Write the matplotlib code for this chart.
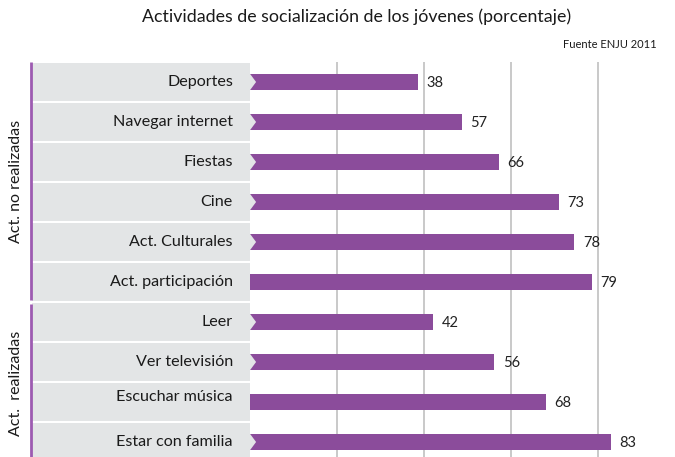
import numpy as np
import matplotlib
matplotlib.use("Agg")
import matplotlib.pyplot as plt
from matplotlib.patches import Polygon

plt.rcParams['font.family'] = ['Lato', 'DejaVu Sans']

# data
categories = ["Deportes", "Navegar internet", "Fiestas", "Cine", "Act. Culturales",
              "Act. participación", "Leer", "Ver televisión", "Escuchar música",
              "Estar con familia"]
values = [38, 57, 66, 73, 78, 79, 42, 56, 68, 83]            # printed labels
bar_lengths = [38.6, 48.7, 57.2, 71.0, 74.5, 78.6, 42.1, 56.1, 68, 83]  # as drawn in the source
groups = ["Act. no realizadas", "Act.  realizadas"]
group_sizes = [6, 4]
notched = [True, True, True, True, True, False, True, True, False, True]

purple = "#8b4c9b"
line_purple = "#9d5bb1"
box_grey = "#e3e5e6"
grid_grey = "#c9c9c9"

W, H = 675, 457
fig = plt.figure(figsize=(W / 100, H / 100), dpi=100)

top_px, bot_px = 62, 457
pitch = 40.0
n = len(categories)
ylim = (-0.5 + (bot_px - top_px) / pitch, -0.5)

# bars axes
x0_px = 250
scale = 4.35  # px per unit
ax = fig.add_axes([x0_px / W, 0, 1 - x0_px / W, (bot_px - top_px) / H])
ax.set_xlim(0, (W - x0_px) / scale)
ax.set_ylim(*ylim)
y = np.arange(n)
ax.barh(y, bar_lengths, height=0.41, color=purple, zorder=2)
for yi, v, L, nt in zip(y, values, bar_lengths, notched):
    ax.text(L + 2.0, yi + 0.02, str(v), va="center", ha="left", fontsize=10.5, color="#222222")
    if nt:
        ax.add_patch(Polygon([[0, yi - 0.205], [1.4, yi], [0, yi + 0.205]],
                             closed=True, color=box_grey, zorder=3, lw=0))
ax.set_xticks([20, 40, 60, 80])
ax.grid(axis="x", color=grid_grey, lw=1.4, zorder=1)
ax.tick_params(length=0, labelbottom=False, labelleft=False)
for s in ax.spines.values():
    s.set_visible(False)

# label panel
lab_l = 32
axl = fig.add_axes([lab_l / W, 0, (x0_px - lab_l) / W, (bot_px - top_px) / H])
axl.set_xlim(0, 1)
axl.set_ylim(*ylim)
axl.barh(y, [1] * n, height=0.95, left=0, color=box_grey)
for yi, c in zip(y, categories):
    dy = -0.12 if c == "Escuchar música" else 0
    axl.text(0.922, yi + dy, c, ha="right", va="center", fontsize=11.6, color="#1a1a1a")
axl.axis("off")

# group markers
start = 0
for g, size in zip(groups, group_sizes):
    a = start - 0.5 + (0.05 if start else 0)
    b = start + size - 0.5 - (0.05 if start == 0 else 0)
    axl.plot([-0.005, -0.005], [a, b], color=line_purple, lw=2, clip_on=False,
             solid_capstyle="butt")
    axl.text(-0.075, (a + b) / 2, g, rotation=90, ha="center", va="center",
             fontsize=11.5, color="#1a1a1a", clip_on=False)
    start += size

fig.text(357 / W, 1 - 17 / H, "Actividades de socialización de los jóvenes (porcentaje)",
         ha="center", va="center", fontsize=12.8, color="#1a1a1a")
fig.text(657 / W, 1 - 45 / H, "Fuente ENJU 2011", ha="right", va="center",
         fontsize=8, color="#1a1a1a")

fig.savefig("out.png", dpi=100)
